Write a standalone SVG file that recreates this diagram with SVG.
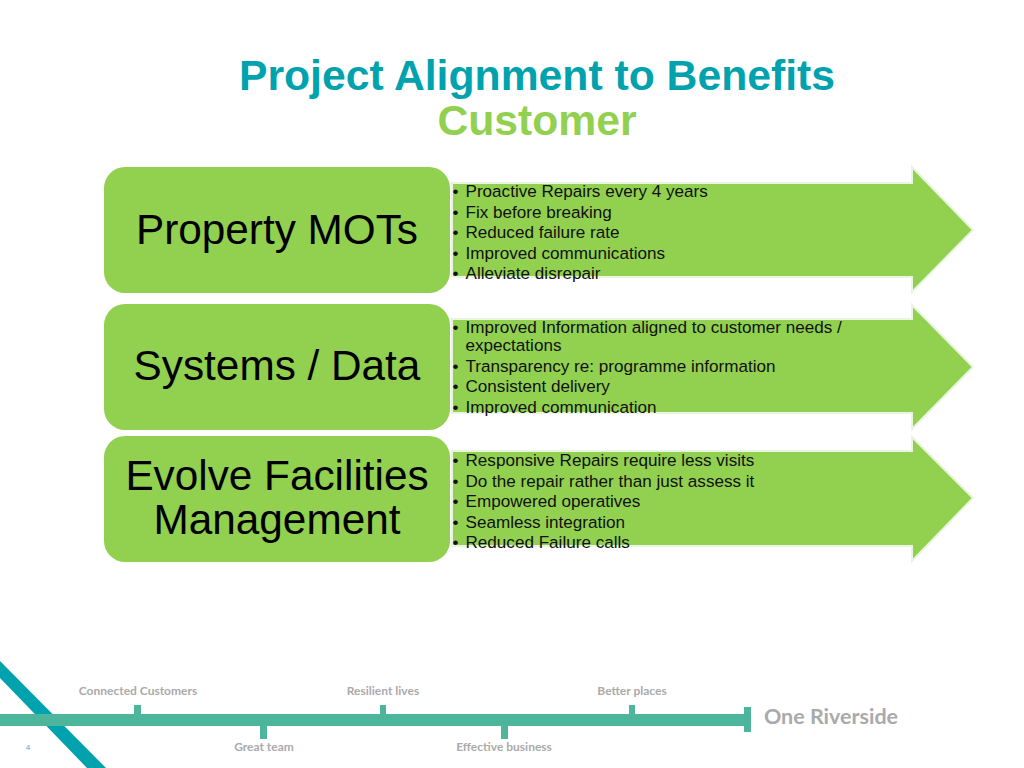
<svg xmlns="http://www.w3.org/2000/svg" width="1024" height="768" viewBox="0 0 1024 768">
<style>
text{font-family:"Liberation Sans",Arial,sans-serif}
.t{font-weight:700;font-size:42.700px;text-anchor:middle}
.box{fill:#92d050}
.arrow{fill:#92d050;stroke:#e9f5e0;stroke-width:2}
.lab{font-size:42.300px;fill:#000;text-anchor:middle}
.b{font-size:17.100px;fill:#111}
.f{font-family:"Lato","Liberation Sans",sans-serif;font-weight:700;font-size:12px;fill:#aaaaaa;text-anchor:middle}
.line{fill:#4cb59c}
</style>
<rect width="1024" height="768" fill="#fff"/>
<g id="title">
<text class="t" x="537" y="90" fill="#00a3ad">Project Alignment to Benefits</text>
<text class="t" x="537" y="135" fill="#92d050">Customer</text>
</g>
<g id="node-property-mots">
<path class="arrow" d="M452 183H912V167L973 230L912 292V277H452Z"/>
<rect class="box" x="104" y="167" width="346" height="126" rx="21"/>
<text class="lab" x="277" y="244">Property MOTs</text>
<g class="b">
<text x="452.500" y="197">•</text><text x="465.500" y="197">Proactive Repairs every 4 years</text>
<text x="452.500" y="218">•</text><text x="465.500" y="218">Fix before breaking</text>
<text x="452.500" y="238">•</text><text x="465.500" y="238">Reduced failure rate</text>
<text x="452.500" y="259">•</text><text x="465.500" y="259">Improved communications</text>
<text x="452.500" y="279">•</text><text x="465.500" y="279">Alleviate disrepair</text>
</g>
</g>
<g id="node-systems-data">
<path class="arrow" d="M452 319H912V305L973 367L912 429V413H452Z"/>
<rect class="box" x="104" y="304" width="346" height="126" rx="21"/>
<text class="lab" x="277" y="380">Systems / Data</text>
<g class="b">
<text x="452.500" y="333">•</text><text x="465.500" y="333">Improved Information aligned to customer needs /<tspan x="465.500" y="351">expectations</tspan></text>
<text x="452.500" y="372">•</text><text x="465.500" y="372">Transparency re: programme information</text>
<text x="452.500" y="392">•</text><text x="465.500" y="392">Consistent delivery</text>
<text x="452.500" y="413">•</text><text x="465.500" y="413">Improved communication</text>
</g>
</g>
<g id="node-evolve">
<path class="arrow" d="M452 451H912V437L973 498L912 561V546H452Z"/>
<rect class="box" x="104" y="436" width="346" height="126" rx="21"/>
<text class="lab" x="277" y="490">Evolve Facilities<tspan x="277" y="534">Management</tspan></text>
<g class="b">
<text x="452.500" y="466">•</text><text x="465.500" y="466">Responsive Repairs require less visits</text>
<text x="452.500" y="487">•</text><text x="465.500" y="487">Do the repair rather than just assess it</text>
<text x="452.500" y="507">•</text><text x="465.500" y="507">Empowered operatives</text>
<text x="452.500" y="528">•</text><text x="465.500" y="528">Seamless integration</text>
<text x="452.500" y="548">•</text><text x="465.500" y="548">Reduced Failure calls</text>
</g>
</g>
<g id="footer">
<path d="M0 661L106 768H87L0 678Z" fill="#00a3ad"/>
<rect class="line" x="0" y="714" width="745" height="12"/>
<rect class="line" x="134" y="705" width="7" height="10"/>
<rect class="line" x="260" y="725" width="7" height="14"/>
<rect class="line" x="380" y="705" width="6" height="10"/>
<rect class="line" x="501" y="725" width="7" height="14"/>
<rect class="line" x="629" y="705" width="6" height="10"/>
<rect class="line" x="744" y="707" width="7" height="25"/>
<text class="f" x="138" y="695">Connected Customers</text>
<text class="f" x="383" y="695">Resilient lives</text>
<text class="f" x="632" y="695">Better places</text>
<text class="f" x="264" y="751">Great team</text>
<text class="f" x="504" y="751">Effective business</text>
<text class="f" x="831" y="724" style="font-size:21.500px">One Riverside</text>
<text x="28" y="750" font-size="8" fill="#4aa8d8" text-anchor="middle">4</text>
</g>
</svg>
